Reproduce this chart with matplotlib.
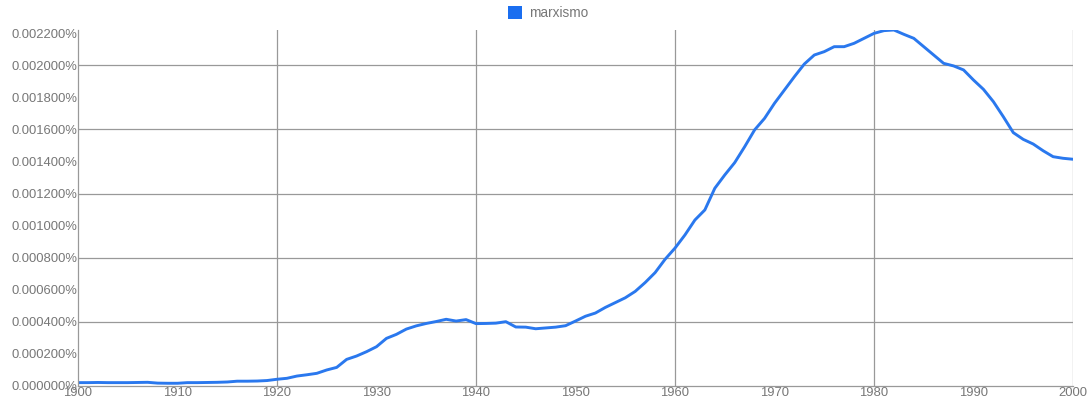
"""Ngram frequency of 'marxismo', 1900-2000."""

import matplotlib

matplotlib.use("Agg")
import matplotlib.pyplot as plt
from matplotlib.patches import Patch
from matplotlib.ticker import FuncFormatter, MultipleLocator

LABEL = "marxismo"
YEARS = list(range(1900, 2001))
# percent of all words
FREQ = [
    0.000021, 0.000021, 0.000022, 0.000021, 0.000021,  # 1900
    0.000021, 0.000022, 0.000023, 0.000018, 0.000017,  # 1905
    0.000017, 0.000021, 0.000021, 0.000022, 0.000023,  # 1910
    0.000025, 0.000030, 0.000030, 0.000031, 0.000034,  # 1915
    0.000042, 0.000048, 0.000062, 0.000070, 0.000079,  # 1920
    0.000100, 0.000116, 0.000166, 0.000187, 0.000214,  # 1925
    0.000245, 0.000297, 0.000322, 0.000355, 0.000375,  # 1930
    0.000390, 0.000402, 0.000416, 0.000405, 0.000414,  # 1935
    0.000389, 0.000390, 0.000392, 0.000401, 0.000368,  # 1940
    0.000367, 0.000357, 0.000362, 0.000367, 0.000376,  # 1945
    0.000405, 0.000435, 0.000455, 0.000490, 0.000520,  # 1950
    0.000550, 0.000590, 0.000645, 0.000707, 0.000790,  # 1955
    0.000860, 0.000942, 0.001035, 0.001098, 0.001233,  # 1960
    0.001316, 0.001393, 0.001492, 0.001597, 0.001669,  # 1965
    0.001763, 0.001846, 0.001929, 0.002008, 0.002064,  # 1970
    0.002085, 0.002116, 0.002116, 0.002137, 0.002168,  # 1975
    0.002199, 0.002216, 0.002220, 0.002193, 0.002168,  # 1980
    0.002116, 0.002064, 0.002012, 0.001996, 0.001971,  # 1985
    0.001908, 0.001850, 0.001773, 0.001679, 0.001580,  # 1990
    0.001538, 0.001509, 0.001467, 0.001430, 0.001420,  # 1995
    0.001414,  # 2000
]

LINE_COLOR = "#2a78ee"
GRID_COLOR = "#999999"
TEXT_COLOR = "#777777"

plt.rcParams["font.family"] = ["Liberation Sans", "DejaVu Sans"]

fig = plt.figure(figsize=(10.92, 4.04), dpi=100)
ax = fig.add_axes([78 / 1092, 18 / 404, 995 / 1092, 356 / 404])

ax.plot(YEARS, FREQ, color=LINE_COLOR, lw=2.1, solid_joinstyle="round")

ax.set_xlim(1900, 2000)
ax.set_ylim(0, max(FREQ))

# labels every 10 years / 0.0002, grid every 20 years / 0.0004
ax.xaxis.set_major_locator(MultipleLocator(10))
ax.yaxis.set_major_locator(MultipleLocator(0.0002))
ax.yaxis.set_major_formatter(FuncFormatter(lambda v, _: f"{v:.6f}%"))
ax.tick_params(length=0, labelsize=9.4, labelcolor=TEXT_COLOR)
ax.tick_params(axis="x", pad=0.5)
ax.tick_params(axis="y", pad=0.5)

for yr in range(1920, 2001, 20):
    ax.axvline(yr, color=GRID_COLOR, lw=0.9, zorder=0)
for val in [0.0004, 0.0008, 0.0012, 0.0016, 0.0020]:
    ax.axhline(val, color=GRID_COLOR, lw=0.9, zorder=0)

for side in ["left", "bottom"]:
    ax.spines[side].set_color(GRID_COLOR)
    ax.spines[side].set_linewidth(0.9)
ax.spines["top"].set_visible(False)
ax.spines["right"].set_visible(False)

fig.legend(
    handles=[Patch(facecolor="#1a6ef0", edgecolor="none", label=LABEL)],
    loc="upper center",
    bbox_to_anchor=(0.502, 1.015),
    frameon=False,
    fontsize=9.8,
    labelcolor=TEXT_COLOR,
    handlelength=1.0,
    handleheight=1.0,
    handletextpad=0.5,
)

fig.savefig("out.png", dpi=100)
